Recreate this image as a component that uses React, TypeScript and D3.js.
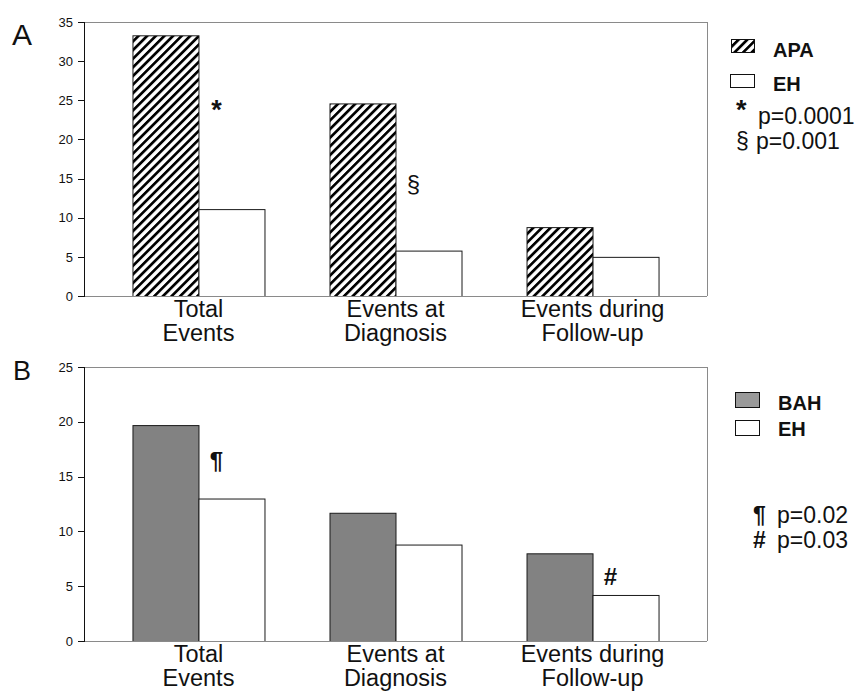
import React from "react";
import * as d3 from "d3";

const categories: string[][] = [
  ["Total", "Events"],
  ["Events at", "Diagnosis"],
  ["Events during", "Follow-up"],
];
const apaValues = [33.3, 24.6, 8.8];
const ehValuesA = [11.1, 5.8, 5.0];
const bahValues = [19.7, 11.7, 8.0];
const ehValuesB = [13.0, 8.8, 4.2];
const ticksA = [0, 5, 10, 15, 20, 25, 30, 35];
const ticksB = [0, 5, 10, 15, 20, 25];
const legendA = ["APA", "EH"];
const legendB = ["BAH", "EH"];
const pValuesA = [
  { sym: "*", text: "p=0.0001" },
  { sym: "§", text: "p=0.001" },
];
const pValuesB = [
  { sym: "¶", text: "p=0.02" },
  { sym: "#", text: "p=0.03" },
];
// annotation marks placed relative to the EH bar of a category
const marksA = [
  { cat: 0, sym: "*", bold: true, ref: 11.1, dy: -90 },
  { cat: 1, sym: "§", bold: false, ref: 5.8, dy: -59 },
];
const marksB = [
  { cat: 0, sym: "¶", bold: true, ref: 13.0, dy: -30 },
  { cat: 2, sym: "#", bold: true, ref: 4.2, dy: -10 },
];

const FONT = "'Liberation Sans', Arial, sans-serif";
const LEFT = 84;
const RIGHT = 707;

const x = d3
  .scaleBand<number>()
  .domain([0, 1, 2])
  .range([LEFT, RIGHT])
  .paddingInner(0.33)
  .paddingOuter(0.246);

function Panel(props: {
  top: number;
  bottom: number;
  max: number;
  ticks: number[];
  s1: number[];
  s2: number[];
  fill1: string;
  marks: { cat: number; sym: string; bold: boolean; ref: number; dy: number }[];
}) {
  const { top, bottom, max, ticks, s1, s2, fill1, marks } = props;
  const y = d3.scaleLinear().domain([0, max]).range([bottom, top]);
  const bw = x.bandwidth() / 2;
  return (
    <g>
      <line x1={LEFT} x2={RIGHT} y1={top + 0.5} y2={top + 0.5} stroke="#8a8a8a" />
      <line x1={RIGHT + 0.5} x2={RIGHT + 0.5} y1={top} y2={bottom} stroke="#8a8a8a" />
      {s1.map((v, i) => (
        <rect
          key={"a" + i}
          x={x(i)! + 0.5}
          y={y(v) + 0.5}
          width={bw}
          height={bottom - y(v)}
          fill={fill1}
          stroke="#1a1a1a"
          strokeWidth={1}
        />
      ))}
      {s2.map((v, i) => (
        <rect
          key={"b" + i}
          x={x(i)! + bw + 0.5}
          y={y(v) + 0.5}
          width={bw}
          height={bottom - y(v)}
          fill="#fff"
          stroke="#1a1a1a"
          strokeWidth={1}
        />
      ))}
      <line x1={LEFT} x2={RIGHT} y1={bottom + 0.5} y2={bottom + 0.5} stroke="#8a8a8a" />
      <line x1={LEFT + 0.5} x2={LEFT + 0.5} y1={top} y2={bottom + 1} stroke="#111" />
      {ticks.map((t) => (
        <g key={t}>
          <line x1={LEFT - 6} x2={LEFT} y1={Math.round(y(t)) + 0.5} y2={Math.round(y(t)) + 0.5} stroke="#111" />
          <text
            x={LEFT - 11}
            y={y(t)}
            dy="0.36em"
            textAnchor="end"
            fontSize={13}
            fontFamily={FONT}
            fill="#111"
          >
            {t}
          </text>
        </g>
      ))}
      {categories.map((lines, i) =>
        lines.map((l, j) => (
          <text
            key={i + "-" + j}
            x={x(i)! + x.bandwidth() / 2}
            y={bottom + 21 + j * 24}
            textAnchor="middle"
            fontSize={23.5}
            fontFamily={FONT}
            fill="#111"
          >
            {l}
          </text>
        ))
      )}
      {marks.map((m, i) => (
        <text
          key={i}
          x={x(m.cat)! + bw + 18}
          y={y(m.ref) + m.dy}
          textAnchor="middle"
          fontSize={m.sym === "*" ? 27 : 24}
          fontWeight={m.bold ? "bold" : "normal"}
          fontFamily={FONT}
          fill="#111"
        >
          {m.sym}
        </text>
      ))}
    </g>
  );
}

export default function App() {
  return (
    <svg
      width={861}
      height={696}
      style={{ position: "absolute", left: 0, top: 0, background: "#fff" }}
    >
      <defs>
        <pattern
          id="hatch"
          patternUnits="userSpaceOnUse"
          width={6.1}
          height={6.1}
          patternTransform="rotate(45)"
        >
          <rect x={0} y={0} width={6.1} height={6.1} fill="#fff" />
          <rect x={0} y={0} width={2.7} height={6.1} fill="#000" />
        </pattern>
      </defs>
      <rect x={0} y={0} width={861} height={696} fill="#fff" />
      <text x={12} y={45} fontSize={30} fontFamily={FONT} fill="#111">
        A
      </text>
      <text x={13} y={380} fontSize={27} fontFamily={FONT} fill="#111">
        B
      </text>
      <Panel
        top={22}
        bottom={296}
        max={35}
        ticks={ticksA}
        s1={apaValues}
        s2={ehValuesA}
        fill1="url(#hatch)"
        marks={marksA}
      />
      <Panel
        top={367}
        bottom={641}
        max={25}
        ticks={ticksB}
        s1={bahValues}
        s2={ehValuesB}
        fill1="#828282"
        marks={marksB}
      />
      <rect x={731.5} y={39.5} width={23} height={13} fill="url(#hatch)" stroke="#111" />
      <rect x={730.5} y={74.5} width={24} height={13} fill="#fff" stroke="#111" />
      {legendA.map((l, i) => (
        <text key={l + i} x={773} y={57 + i * 34} fontSize={20} fontWeight="bold" fontFamily={FONT} fill="#111">
          {l}
        </text>
      ))}
      {pValuesA.map((p, i) => (
        <g key={i}>
          <text
            x={736}
            y={i === 0 ? 124 : 149}
            fontSize={i === 0 ? 27 : 23}
            fontWeight={i === 0 ? "bold" : "normal"}
            fontFamily={FONT}
            fill="#111"
            dy={i === 0 ? -5 : 0}
          >
            {p.sym}
          </text>
          <text x={i === 0 ? 758 : 756} y={124 + i * 25} fontSize={23} fontFamily={FONT} fill="#111">
            {p.text}
          </text>
        </g>
      ))}
      <rect x={735.5} y={392.5} width={24} height={15} fill="#9a9a9a" stroke="#111" />
      <rect x={735.5} y={420.5} width={24} height={15} fill="#fff" stroke="#111" />
      {legendB.map((l, i) => (
        <text key={l + i} x={778} y={410 + i * 26} fontSize={20} fontWeight="bold" fontFamily={FONT} fill="#111">
          {l}
        </text>
      ))}
      {pValuesB.map((p, i) => (
        <g key={i}>
          <text x={753} y={523 + i * 25} fontSize={23} fontWeight="bold" fontFamily={FONT} fill="#111">
            {p.sym}
          </text>
          <text x={777} y={523 + i * 25} fontSize={23} fontFamily={FONT} fill="#111">
            {p.text}
          </text>
        </g>
      ))}
    </svg>
  );
}
